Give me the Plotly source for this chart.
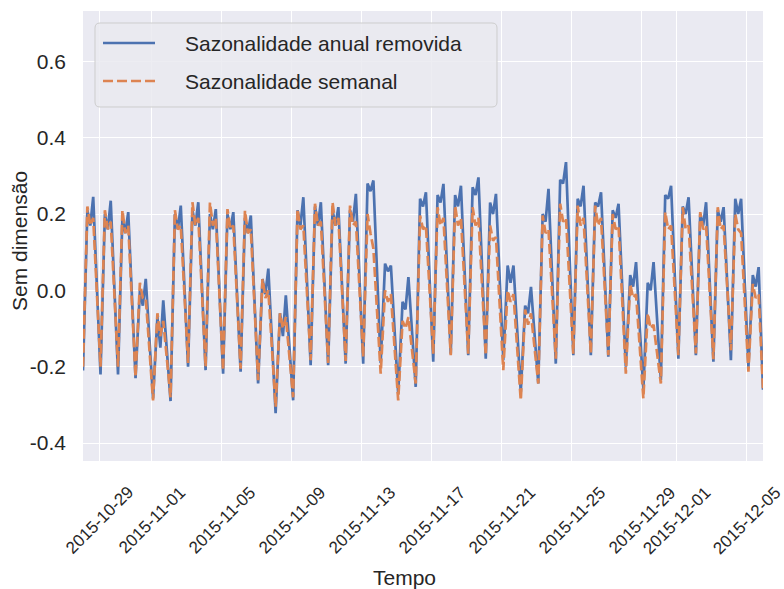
import pandas as pd
import plotly.graph_objects as go

# Daily key readings (one value per day, 2015-10-28 .. 2015-12-05)
dias = pd.date_range("2015-10-28", "2015-12-05", freq="D")

# "Sazonalidade anual removida": night trough, morning, midday, afternoon
anual_vale = [-0.21, -0.22, -0.22, -0.23, -0.283, -0.29, -0.20, -0.209, -0.218, -0.213,
              -0.244, -0.322, -0.288, -0.196, -0.196, -0.192, -0.192, -0.19, -0.27, -0.253,
              -0.187, -0.166, -0.17, -0.179, -0.183, -0.266, -0.244, -0.192, -0.17, -0.17,
              -0.174, -0.2, -0.261, -0.235, -0.179, -0.17, -0.187, -0.183, -0.2]
anual_manha = [0.21, 0.20, 0.19, 0.0, -0.07, 0.20, 0.21, 0.20, 0.20, 0.19,
               0.03, -0.06, 0.21, 0.22, 0.21, 0.21, 0.28, 0.07, -0.03, 0.24,
               0.25, 0.25, 0.27, 0.23, 0.065, -0.04, 0.20, 0.29, 0.24, 0.23,
               0.21, 0.04, 0.02, 0.25, 0.22, 0.20, 0.21, 0.24, 0.04]
anual_meio = [0.17, 0.16, 0.15, -0.04, -0.15, 0.16, 0.17, 0.16, 0.16, 0.15,
              -0.01, -0.12, 0.17, 0.17, 0.17, 0.18, 0.26, 0.05, -0.05, 0.22,
              0.23, 0.22, 0.25, 0.20, 0.02, -0.06, 0.18, 0.28, 0.22, 0.22,
              0.19, 0.01, 0.0, 0.24, 0.20, 0.17, 0.18, 0.20, 0.01]
anual_tarde = [0.245, 0.235, 0.205, 0.03, -0.026, 0.222, 0.231, 0.213, 0.205, 0.196,
               0.057, -0.013, 0.244, 0.231, 0.218, 0.253, 0.288, 0.065, 0.035, 0.257,
               0.279, 0.274, 0.296, 0.253, 0.065, 0.009, 0.266, 0.336, 0.274, 0.257,
               0.227, 0.074, 0.074, 0.274, 0.244, 0.231, 0.218, 0.24, 0.061]
anual_fim = -0.26

# "Sazonalidade semanal"
semanal_vale = [-0.20, -0.20, -0.20, -0.227, -0.288, -0.28, -0.19, -0.20, -0.21, -0.205,
                -0.235, -0.305, -0.28, -0.183, -0.19, -0.185, -0.174, -0.218, -0.288, -0.244,
                -0.166, -0.17, -0.166, -0.17, -0.209, -0.288, -0.244, -0.179, -0.166, -0.165,
                -0.17, -0.218, -0.283, -0.244, -0.17, -0.165, -0.18, -0.157, -0.213]
semanal_manha = [0.22, 0.21, 0.21, 0.02, -0.06, 0.21, 0.231, 0.23, 0.213, 0.209,
                 0.03, -0.06, 0.213, 0.227, 0.231, 0.222, 0.20, 0.0, -0.08, 0.196,
                 0.218, 0.222, 0.218, 0.17, 0.0, -0.05, 0.196, 0.227, 0.222, 0.222,
                 0.20, 0.017, -0.06, 0.205, 0.218, 0.205, 0.218, 0.20, 0.017]
semanal_meio = [0.17, 0.16, 0.15, -0.02, -0.12, 0.16, 0.17, 0.17, 0.16, 0.15,
                -0.02, -0.10, 0.16, 0.17, 0.17, 0.17, 0.15, -0.03, -0.10, 0.16,
                0.17, 0.17, 0.17, 0.13, -0.03, -0.09, 0.15, 0.18, 0.17, 0.17,
                0.16, -0.02, -0.10, 0.16, 0.16, 0.16, 0.16, 0.16, -0.02]
semanal_tarde = [0.19, 0.18, 0.17, -0.02, -0.08, 0.17, 0.19, 0.19, 0.17, 0.16,
                 0.0, -0.07, 0.17, 0.18, 0.19, 0.18, 0.11, -0.01, -0.07, 0.17,
                 0.19, 0.19, 0.19, 0.14, -0.01, -0.06, 0.16, 0.19, 0.19, 0.19,
                 0.17, -0.01, -0.09, 0.17, 0.17, 0.17, 0.17, 0.15, -0.01]
semanal_fim = -0.26

# hour of day for each daily reading
horas = [2, 8, 12, 16]
inicio = pd.Timestamp("2015-10-28 02:00")
fim = pd.Timestamp("2015-12-05 22:00")

tick_datas = ["2015-10-29", "2015-11-01", "2015-11-05", "2015-11-09", "2015-11-13",
              "2015-11-17", "2015-11-21", "2015-11-25", "2015-11-29", "2015-12-01",
              "2015-12-05"]
y_ticks = [-0.4, -0.2, 0.0, 0.2, 0.4, 0.6]
y_rotulos = ["-0.4", "-0.2", "0.0", "0.2", "0.4", "0.6"]

AZUL = "#4C72B0"
LARANJA = "#DD8452"
TEXTO = "#262626"
FONTE = "Liberation Sans, Arial, sans-serif"


def serie(vale, manha, meio, tarde, ultimo):
    t, v = [], []
    for d, a, b, c, e in zip(dias, vale, manha, meio, tarde):
        for h, val in zip(horas, (a, b, c, e)):
            t.append(d + pd.Timedelta(hours=h))
            v.append(val)
    t.append(fim)
    v.append(ultimo)
    return t, v


t_a, v_a = serie(anual_vale, anual_manha, anual_meio, anual_tarde, anual_fim)
t_s, v_s = serie(semanal_vale, semanal_manha, semanal_meio, semanal_tarde, semanal_fim)

fig = go.Figure()
fig.add_trace(go.Scatter(x=t_a, y=v_a, mode="lines", name="Sazonalidade anual removida",
                         line=dict(color=AZUL, width=2.7), showlegend=False))
fig.add_trace(go.Scatter(x=t_s, y=v_s, mode="lines", name="Sazonalidade semanal",
                         line=dict(color=LARANJA, width=2.7, dash="10px,4px"),
                         showlegend=False))

# plot area geometry (pixels)
L, R, T, B = 83, 21, 11, 128
W, H = 784, 589
PW, PH = W - L - R, H - T - B


def px(xp):
    return (xp - L) / PW


def py(yp):
    return (H - B - yp) / PH


anotacoes = []
for d in tick_datas:
    anotacoes.append(dict(x=d, xref="x", y=0, yref="paper", yshift=-59,
                          text=d, textangle=-45, showarrow=False,
                          xanchor="center", yanchor="middle",
                          font=dict(family=FONTE, size=17, color=TEXTO)))

anotacoes.append(dict(x=px(404), xref="paper", y=0, yref="paper", yshift=-116,
                      text="Tempo", showarrow=False, xanchor="center", yanchor="middle",
                      font=dict(family=FONTE, size=21, color=TEXTO)))
anotacoes.append(dict(x=0, xref="paper", xshift=-63, y=py(241), yref="paper",
                      text="Sem dimensão", textangle=-90, showarrow=False,
                      xanchor="center", yanchor="middle",
                      font=dict(family=FONTE, size=21, color=TEXTO)))

# legend box
x0, x1, y0, y1 = px(95), px(497), py(107), py(23)
rx, ry = 5 / PW, 5 / PH
caminho = (f"M {x0+rx},{y1} L {x1-rx},{y1} Q {x1},{y1} {x1},{y1-ry} "
           f"L {x1},{y0+ry} Q {x1},{y0} {x1-rx},{y0} L {x0+rx},{y0} "
           f"Q {x0},{y0} {x0},{y0+ry} L {x0},{y1-ry} Q {x0},{y1} {x0+rx},{y1} Z")
formas = [dict(type="path", path=caminho, xref="paper", yref="paper",
               fillcolor="rgba(234,234,240,0.85)", line=dict(color="#CDCDCD", width=1),
               layer="above")]
itens = [("Sazonalidade anual removida", AZUL, "solid", 43),
         ("Sazonalidade semanal", LARANJA, "10px,4px", 81)]
for nome, cor, tracejado, yy in itens:
    formas.append(dict(type="line", xref="paper", yref="paper",
                       x0=px(103), x1=px(155), y0=py(yy), y1=py(yy),
                       line=dict(color=cor, width=2.7, dash=tracejado), layer="above"))
    anotacoes.append(dict(x=px(183), xref="paper", y=py(yy), yref="paper", text=nome,
                          showarrow=False, xanchor="left", yanchor="middle",
                          font=dict(family=FONTE, size=21, color=TEXTO)))

fig.update_layout(
    width=W, height=H,
    margin=dict(l=L, r=R, t=T, b=B, pad=0),
    paper_bgcolor="white",
    plot_bgcolor="#EAEAF2",
    font=dict(family=FONTE, color=TEXTO),
    xaxis=dict(type="date", range=[inicio, fim], tickvals=tick_datas,
               showticklabels=False, showgrid=True, gridcolor="white", gridwidth=1.4,
               zeroline=False, showline=False, ticks=""),
    yaxis=dict(range=[-0.447, 0.732], tickvals=y_ticks, ticktext=y_rotulos,
               showgrid=True, gridcolor="white", gridwidth=1.4, zeroline=False,
               showline=False, ticks="", ticklabelstandoff=16,
               tickfont=dict(family=FONTE, size=21, color=TEXTO)),
    annotations=anotacoes,
    shapes=formas,
)

fig.write_html("out.html")
